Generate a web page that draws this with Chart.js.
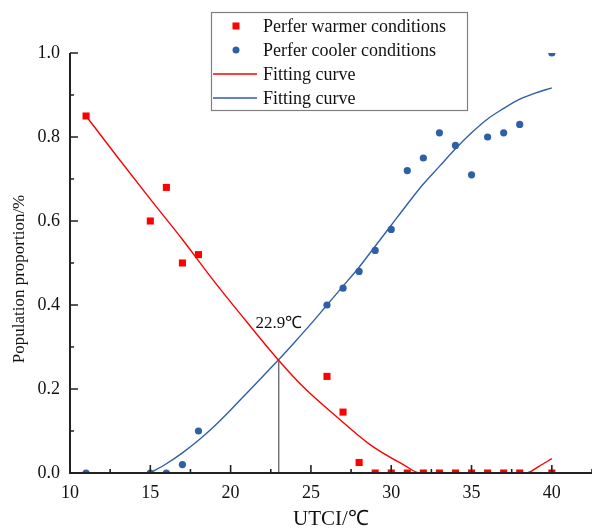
<!DOCTYPE html>
<html>
<head>
<meta charset="utf-8">
<script src="https://cdn.jsdelivr.net/npm/chart.js@4.4.0/dist/chart.umd.min.js"></script>
<style>
  html, body { margin: 0; padding: 0; background: #fff; }
  #box { width: 592px; height: 532px; }
</style>
</head>
<body>
<div id="box"><canvas id="grafico"></canvas></div>
<script>
// dati
const utci = [11, 15, 16, 17, 18, 26, 27, 28, 29, 30, 31, 32, 33, 34, 35, 36, 37, 38, 40];
const warmer = [0.85, 0.60, 0.68, 0.50, 0.52, 0.23, 0.145, 0.025, 0, 0, 0, 0, 0, 0, 0, 0, 0, 0, 0];
const cooler = [0, 0, 0, 0.02, 0.10, 0.40, 0.44, 0.48, 0.53, 0.58, 0.72, 0.75, 0.81, 0.78, 0.71, 0.80, 0.81, 0.83, 1.0];

const fitWarmX = [11, 13, 15, 17, 19, 21, 23, 24.5, 26.6, 28.7, 30.8, 31.8, 38.4, 39.2, 40];
const fitWarmY = [0.85, 0.75, 0.652, 0.556, 0.455, 0.36, 0.268, 0.206, 0.134, 0.067, 0.019, 0, 0, 0.016, 0.034];
const fitCoolX = [15, 16, 17, 18, 19, 20, 21, 22, 23, 24, 25, 26, 27, 28, 29, 30, 31, 32, 33, 34, 35, 36, 37, 38, 39, 40];
const fitCoolY = [0, 0.022, 0.048, 0.078, 0.112, 0.15, 0.19, 0.23, 0.27, 0.312, 0.355, 0.40, 0.445, 0.49, 0.54, 0.59, 0.64, 0.688, 0.73, 0.772, 0.81, 0.843, 0.868, 0.89, 0.905, 0.917];

const crossX = 23.0;
const crossY = 0.266;
const crossLabel = "22.9℃";

const xTicks = [10, 15, 20, 25, 30, 35, 40];
const xMinor = [12.5, 17.5, 22.5, 27.5, 32.5, 37.5, 42.5];
const yTicks = [0, 0.2, 0.4, 0.6, 0.8, 1.0];
const yMinor = [0.1, 0.3, 0.5, 0.7, 0.9];

const legendLabels = ["Perfer warmer conditions", "Perfer cooler conditions", "Fitting curve", "Fitting curve"];

const ROSSO = "#ff0000";
const BLU = "#2f5fa7";
const SERIF = "'Liberation Serif', 'Times New Roman', serif";

function punti(xs, ys) {
  return xs.map((v, i) => ({ x: v, y: ys[i] }));
}

Chart.defaults.font.family = SERIF;
Chart.defaults.color = "#111";

const assi = {
  id: "assi",
  afterDatasetsDraw(chart) {
    const { ctx, chartArea: a, scales: { x, y } } = chart;
    ctx.save();
    ctx.strokeStyle = "#222";
    ctx.lineWidth = 2;
    ctx.beginPath();
    ctx.moveTo(a.left, a.top);
    ctx.lineTo(a.left, a.bottom);
    ctx.lineTo(a.right, a.bottom);
    ctx.stroke();
    ctx.lineWidth = 1.6;
    ctx.beginPath();
    xTicks.forEach(v => { const p = x.getPixelForValue(v); ctx.moveTo(p, a.bottom); ctx.lineTo(p, a.bottom - 8); });
    xMinor.forEach(v => { const p = x.getPixelForValue(v); ctx.moveTo(p, a.bottom); ctx.lineTo(p, a.bottom - 4); });
    yTicks.forEach(v => { const p = y.getPixelForValue(v); ctx.moveTo(a.left, p); ctx.lineTo(a.left + 8, p); });
    yMinor.forEach(v => { const p = y.getPixelForValue(v); ctx.moveTo(a.left, p); ctx.lineTo(a.left + 4, p); });
    ctx.stroke();

    // etichetta incrocio
    ctx.fillStyle = "#111";
    ctx.font = "17px " + SERIF;
    ctx.textAlign = "center";
    ctx.textBaseline = "middle";
    ctx.fillText(crossLabel, x.getPixelForValue(crossX), y.getPixelForValue(0.357));

    // titolo asse y
    ctx.save();
    ctx.translate(20, 279);
    ctx.rotate(-Math.PI / 2);
    ctx.font = "17px " + SERIF;
    ctx.fillText("Population proportion/%", 0, 0);
    ctx.restore();

    // legenda
    ctx.lineWidth = 1.2;
    ctx.strokeStyle = "#808080";
    ctx.strokeRect(211.5, 12.5, 256, 98);
    const righe = [26, 50, 74, 98];
    ctx.font = "18px " + SERIF;
    ctx.textAlign = "left";
    legendLabels.forEach((t, i) => {
      const ry = righe[i];
      if (i === 0) {
        ctx.fillStyle = ROSSO;
        ctx.fillRect(232.5, ry - 3.5, 7, 7);
      } else if (i === 1) {
        ctx.fillStyle = BLU;
        ctx.beginPath(); ctx.arc(236, ry, 3.5, 0, Math.PI * 2); ctx.fill();
      } else {
        ctx.strokeStyle = i === 2 ? ROSSO : BLU;
        ctx.lineWidth = 1.4;
        ctx.beginPath(); ctx.moveTo(213, ry); ctx.lineTo(257, ry); ctx.stroke();
      }
      ctx.fillStyle = "#111";
      ctx.fillText(t, 263, ry + 1);
    });
    ctx.restore();
  }
};

const ctx = document.getElementById("grafico").getContext("2d");
new Chart(ctx, {
  type: "scatter",
  data: {
    datasets: [
      { data: punti(utci, warmer), pointStyle: "rect", pointRadius: 5, backgroundColor: ROSSO, borderWidth: 0, clip: 0 },
      { data: punti(utci, cooler), pointStyle: "circle", pointRadius: 3.6, backgroundColor: BLU, borderWidth: 0, clip: 0 },
      { data: punti(fitWarmX, fitWarmY), showLine: true, pointRadius: 0, borderColor: ROSSO, borderWidth: 1.4, cubicInterpolationMode: "monotone" },
      { data: punti(fitCoolX, fitCoolY), showLine: true, pointRadius: 0, borderColor: BLU, borderWidth: 1.4, cubicInterpolationMode: "monotone" },
      { data: [{ x: crossX, y: 0 }, { x: crossX, y: crossY }], showLine: true, pointRadius: 0, borderColor: "#333", borderWidth: 1 }
    ]
  },
  options: {
    responsive: true,
    maintainAspectRatio: false,
    animation: false,
    layout: { autoPadding: false, padding: { top: 53, right: 0, left: 0, bottom: 0 } },
    plugins: { legend: { display: false }, tooltip: { enabled: false } },
    scales: {
      x: {
        type: "linear",
        min: 10,
        max: 42.5,
        grid: { display: false, drawTicks: false },
        border: { display: false },
        afterFit: s => { s.height = 59; s.paddingLeft = 0; s.paddingRight = 0; },
        afterBuildTicks: s => { s.ticks = xTicks.map(v => ({ value: v })); },
        ticks: { font: { size: 18 }, padding: 9, maxRotation: 0, color: "#111" },
        title: { display: true, text: "UTCI/℃", font: { size: 21 }, padding: { top: 0, bottom: 0 }, color: "#111" }
      },
      y: {
        min: 0,
        max: 1,
        grid: { display: false, drawTicks: false },
        border: { display: false },
        afterFit: s => { s.width = 70; s.paddingTop = 0; s.paddingBottom = 0; },
        afterBuildTicks: s => { s.ticks = yTicks.map(v => ({ value: v })); },
        ticks: { font: { size: 18 }, padding: 10, color: "#111", callback: v => v.toFixed(1) }
      }
    }
  },
  plugins: [assi]
});
</script>
</body>
</html>
